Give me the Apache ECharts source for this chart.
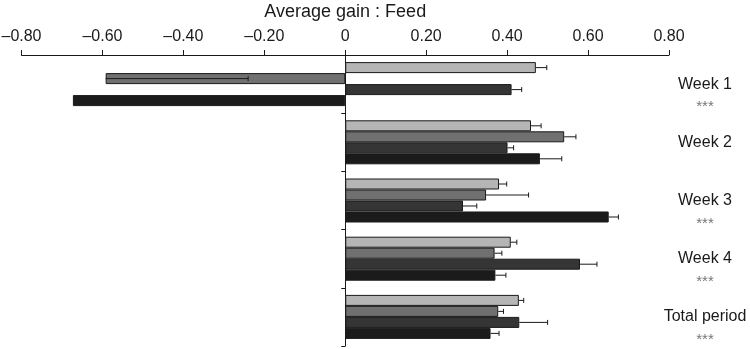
<!DOCTYPE html>
<html>
<head>
<meta charset="utf-8">
<script src="https://cdn.jsdelivr.net/npm/echarts@6/dist/echarts.min.js"></script>
<style>
  html, body { margin: 0; padding: 0; background: #fff; }
  #chart { width: 750px; height: 349px; }
</style>
</head>
<body>
<div id="chart"></div>
<script>
// ---- data ----
const categories = ['Week 1', 'Week 2', 'Week 3', 'Week 4', 'Total period'];
const significance = ['***', '', '***', '***', '***'];
const xTicks = [-0.8, -0.6, -0.4, -0.2, 0, 0.2, 0.4, 0.6, 0.8];

const series1 = [0.471, 0.459, 0.380, 0.409, 0.429];
const series2 = [-0.592, 0.541, 0.348, 0.369, 0.378];
const series3 = [0.411, 0.401, 0.291, 0.580, 0.430];
const series4 = [-0.673, 0.481, 0.651, 0.371, 0.359];

// error bar lengths (negative = whisker drawn toward zero)
const err1 = [0.027, 0.025, 0.019, 0.015, 0.012];
const err2 = [-0.352, 0.029, 0.105, 0.018, 0.013];
const err3 = [0.025, 0.015, 0.034, 0.042, 0.070];
const err4 = [null, 0.054, 0.024, 0.026, 0.021];

const colors = ['#b5b5b5', '#707070', '#353535', '#1b1b1b'];
const values = [series1, series2, series3, series4];
const errors = [err1, err2, err3, err4];
const GAP = 0.244;

const chart = echarts.init(document.getElementById('chart'), null, { renderer: 'canvas' });

const errData = [];
values.forEach((vals, s) => {
  vals.forEach((v, i) => {
    const e = errors[s][i];
    if (e !== null && e !== undefined) errData.push([i, v, e, s]);
  });
});

const fmt = v => {
  if (Math.abs(v) < 1e-9) return '0';
  const t = Math.abs(v).toFixed(2);
  return (v < 0 ? '\u2013' : '') + t;
};

const barSeries = values.map((vals, s) => ({
  type: 'bar',
  xAxisIndex: 0,
  yAxisIndex: 0,
  data: vals,
  barCategoryGap: (GAP * 100) + '%',
  barGap: '0%',
  itemStyle: { color: colors[s], borderColor: '#1a1a1a', borderWidth: 1 },
  silent: true,
  animation: false
}));

const option = {
  animation: false,
  grid: { left: 21.5, right: 81, top: 55, bottom: 3, containLabel: false, outerBoundsMode: 'none' },
  xAxis: {
    type: 'value',
    position: 'top',
    min: -0.8,
    max: 0.8,
    interval: 0.2,
    name: 'Average gain : Feed',
    nameLocation: 'middle',
    nameGap: 34,
    nameTextStyle: { fontFamily: 'Liberation Sans', fontSize: 18, color: '#1a1a1a' },
    axisLine: { show: true, onZero: false, lineStyle: { color: '#1a1a1a', width: 1 } },
    axisTick: { show: true, length: 5, lineStyle: { color: '#1a1a1a' } },
    axisLabel: {
      formatter: fmt,
      margin: 10,
      fontFamily: 'Liberation Sans',
      fontSize: 16,
      color: '#1a1a1a'
    },
    splitLine: { show: false }
  },
  yAxis: [
    {
      type: 'category',
      data: categories,
      inverse: true,
      position: 'left',
      axisLine: { show: true, onZero: true, lineStyle: { color: '#1a1a1a', width: 1 } },
      axisTick: { show: true, length: 4, lineStyle: { color: '#1a1a1a' } },
      axisLabel: { show: false },
      splitLine: { show: false }
    },
    {
      type: 'category',
      data: categories,
      inverse: true,
      position: 'right',
      axisLine: { show: false },
      axisTick: { show: false },
      axisLabel: {
        interval: 0,
        showMinLabel: true,
        showMaxLabel: true,
        hideOverlap: false,
        margin: 36,
        align: 'center',
        formatter: (val, idx) => '{e| }\n{a|' + val + '}\n{s|' + (significance[idx] || ' ') + '}',
        rich: {
          e: { fontSize: 12, lineHeight: 26 },
          a: { fontFamily: 'Liberation Sans', fontSize: 16, lineHeight: 20, color: '#1a1a1a', align: 'center' },
          s: { fontFamily: 'Liberation Sans', fontSize: 15, lineHeight: 26, color: '#777', align: 'center' }
        }
      },
      splitLine: { show: false }
    }
  ],
  series: barSeries.concat([{
    type: 'custom',
    xAxisIndex: 0,
    yAxisIndex: 0,
    silent: true,
    z: 5,
    data: errData,
    renderItem: function (params, api) {
      const ci = api.value(0);
      const v = api.value(1);
      const e = api.value(2);
      const s = api.value(3);
      const center = api.coord([0, ci]);
      const band = api.size([0, 1])[1];
      const total = band * (1 - GAP);
      const bw = total / 4;
      const y = center[1] - total / 2 + bw * (s + 0.5);
      const sign = v < 0 ? -1 : 1;
      const xs = api.coord([v, ci])[0];
      const xe = api.coord([v + sign * e, ci])[0];
      const st = { stroke: '#1a1a1a', lineWidth: 1 };
      return {
        type: 'group',
        children: [
          { type: 'line', shape: { x1: xs, y1: y, x2: xe, y2: y }, style: st },
          { type: 'line', shape: { x1: xe, y1: y - 2.5, x2: xe, y2: y + 2.5 }, style: st }
        ]
      };
    }
  }])
};

chart.setOption(option);
</script>
</body>
</html>
